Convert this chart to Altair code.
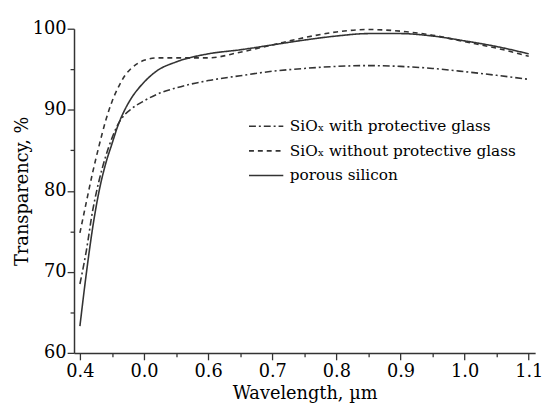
import altair as alt
import pandas as pd

wavelength = [0.40, 0.41, 0.42, 0.43, 0.44, 0.45, 0.46, 0.47, 0.48, 0.50, 0.52, 0.55,
              0.60, 0.65, 0.70, 0.75, 0.80, 0.85, 0.90, 0.95, 1.00, 1.05, 1.10]
with_glass = [68.5, 72.6, 77.6, 81.3, 84.2, 86.5, 88.3, 89.4, 90.1, 91.1, 91.9, 92.7,
              93.6, 94.2, 94.75, 95.1, 95.35, 95.45, 95.35, 95.1, 94.7, 94.25, 93.75]
without_glass = [74.8, 78.6, 82.3, 85.6, 88.6, 91.0, 92.8, 94.2, 95.1, 96.1, 96.4, 96.4,
                 96.4, 97.1, 98.0, 98.9, 99.6, 99.9, 99.7, 99.2, 98.4, 97.6, 96.6]
porous = [63.3, 69.8, 75.5, 80.0, 83.3, 85.8, 88.2, 90.0, 91.4, 93.4, 94.8, 95.9,
          96.9, 97.4, 98.0, 98.6, 99.1, 99.4, 99.4, 99.1, 98.5, 97.8, 96.9]

series_names = ["SiO\u2093 with protective glass",
                "SiO\u2093 without protective glass",
                "porous silicon"]
series_values = [with_glass, without_glass, porous]

x_ticks = [0.40, 0.45, 0.50, 0.55, 0.60, 0.65, 0.70, 0.75, 0.80, 0.85, 0.90, 0.95, 1.00, 1.05, 1.10]
y_ticks = [60, 65, 70, 75, 80, 85, 90, 95, 100]

rows = []
for name, vals in zip(series_names, series_values):
    for w, v in zip(wavelength, vals):
        rows.append({"series": name, "wavelength": w, "value": v})
df = pd.DataFrame(rows)

FONT = "DejaVu Serif"

x_major_test = "abs(datum.value*10 - round(datum.value*10)) < 0.01"
y_major_test = "datum.value % 10 == 0"

chart = alt.Chart(df).mark_line(strokeWidth=1.6, interpolate="monotone").encode(
    x=alt.X("wavelength:Q",
            scale=alt.Scale(domain=[0.3908, 1.11], nice=False, zero=False),
            axis=alt.Axis(values=x_ticks, title="Wavelength, \u00b5m",
                          labelExpr="abs(datum.value*10 - round(datum.value*10)) > 0.01 ? '' : (abs(datum.value-0.5) < 0.001 ? '0.0' : format(datum.value, '.1f'))",
                          tickSize={"condition": {"test": x_major_test, "value": 7}, "value": 4},
                          labelPadding=3, titlePadding=4)),
    y=alt.Y("value:Q",
            scale=alt.Scale(domain=[60, 100], nice=False, zero=False),
            axis=alt.Axis(values=y_ticks, title="Transparency, %",
                          labelExpr="datum.value % 10 == 0 ? datum.label : ''",
                          tickSize={"condition": {"test": y_major_test, "value": 7}, "value": 4},
                          labelPadding=1, titlePadding=1)),
    strokeDash=alt.StrokeDash("series:N",
                              scale=alt.Scale(domain=series_names,
                                              range=[[7, 3, 2, 3], [5, 4], [1, 0]]),
                              sort=series_names,
                              legend=alt.Legend(title=None, orient="none", legendX=182, legendY=86,
                                                symbolType="M-1.45,0H1.45", symbolSize=576,
                                                symbolStrokeWidth=1.6, symbolStrokeColor="#333",
                                                labelFont=FONT, labelFontSize=15.5, labelColor="#000",
                                                labelOffset=11, rowPadding=3, labelLimit=400)),
    color=alt.value("#333")
).properties(
    width=468, height=329,
    autosize=alt.AutoSizeParams(type="none"),
    padding={"left": 67, "top": 18, "right": 10, "bottom": 60}
).configure_axis(
    labelFont=FONT, titleFont=FONT, labelFontSize=18, titleFontSize=18,
    titleFontWeight="normal", labelColor="#000", titleColor="#000",
    domainColor="#333", domainWidth=1.5, tickColor="#333", tickWidth=1.3,
    grid=False
).configure_view(stroke=None)

chart.save("out.html", embed_options={"renderer": "svg", "actions": False})
